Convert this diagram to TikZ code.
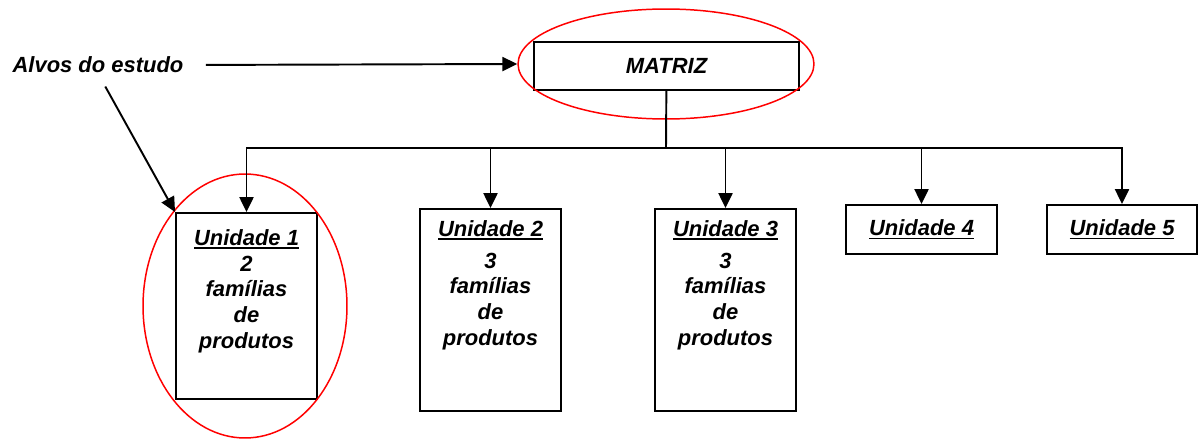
\documentclass[tikz,border=0pt]{standalone}
\usepackage{fontspec}
\setmainfont{Liberation Sans}
\usetikzlibrary{arrows.meta,shapes.geometric}
\newcommand{\undl}[1]{\setbox0\hbox{#1}\rlap{\rule[-2.3pt]{\wd0}{1.1pt}}\box0}

\begin{document}
\begin{tikzpicture}[x=0.02cm,y=-0.02cm]
    \tikzset{txt/.style = {font=\fontsize{12.5}{14.7}\selectfont\bfseries\itshape}}
    \tikzset{lbl/.style = {txt,inner sep=0,align=center}}
    \tikzset{unit/.style = {txt,shape=rectangle,draw,line width=1.1pt,minimum width=2.82cm}}
    \tikzset{edge/.style = {-{Triangle[length=8.5pt,width=8pt]},line width=1.1pt}}
    \tikzset{target/.style = {shape=ellipse,draw=red,line width=0.85pt,inner sep=0}}
    \useasboundingbox (0,0) rectangle (1199,439);
    % top
    \node[lbl] (alvos) at (98,65) {Alvos do estudo};
    \node[unit,minimum width=5.3cm,minimum height=0.96cm] (matriz) at (666.5,66) {MATRIZ};
    \node[target,minimum width=5.92cm,minimum height=2.2cm] (ring1) at (666,64) {};
%%%%%%%%%%%%%%%%%
    % units
    \node[unit,minimum height=3.72cm] (u1) at (246.5,306) {};
    \node[lbl,anchor=north] (t1) at (246.5,229) {\undl{Unidade 1}\\2\\famílias\\de\\produtos};
    \node[unit,minimum height=4.04cm] (u2) at (490.5,310) {};
    \node[lbl,anchor=north] (t2) at (490.5,220) {\undl{Unidade 2}\\[0.12cm]3\\famílias\\de\\produtos};
    \node[unit,minimum height=4.04cm] (u3) at (725.5,310) {};
    \node[lbl,anchor=north] (t3) at (725.5,220) {\undl{Unidade 3}\\[0.12cm]3\\famílias\\de\\produtos};
    \node[unit,minimum width=3.02cm,minimum height=0.98cm] (u4) at (921.5,229.5) {\undl{Unidade 4}};
    \node[unit,minimum width=3cm,minimum height=0.98cm] (u5) at (1122,229.5) {\undl{Unidade 5}};
    \node[target,minimum width=4.08cm,minimum height=5.28cm] (ring2) at (245,306) {};
%%%%%%%%%%%%%%%%%
    \coordinate (bus) at (666,148);
    \draw[line width=1.1pt] (matriz) -- (bus);
    \draw[edge] (bus) -| (u1.north);
    \draw[edge] (bus) -| (u2.north);
    \draw[edge] (bus) -| (u3.north);
    \draw[edge] (bus) -| (u4.north);
    \draw[edge] (bus) -| (u5.north);
    \draw[edge,shorten <=0.44cm] (alvos.east) -- (ring1.west);
    \draw[edge,shorten <=0.3cm] (alvos.south) -- (u1.north west);
\end{tikzpicture}
\end{document}
